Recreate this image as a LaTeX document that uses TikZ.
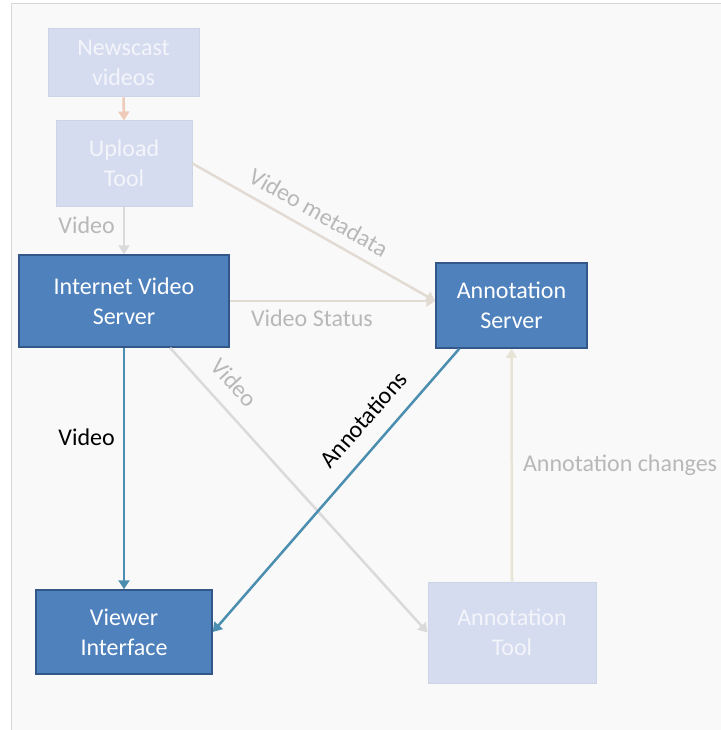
\documentclass[tikz,border=0pt]{standalone}
\usepackage{fontspec}
\setmainfont{Carlito}
\usetikzlibrary{arrows.meta}
\definecolor{darkfill}{HTML}{4F81BD}
\definecolor{darkborder}{HTML}{34578A}
\definecolor{lightfill}{HTML}{D6DCEF}
\definecolor{lightborder}{HTML}{CCD4E6}
\definecolor{lighttext}{HTML}{F3F5FB}
\definecolor{labelgray}{HTML}{B8B8B8}
\definecolor{darkarrow}{HTML}{4C8EB0}
\definecolor{orangearrow}{HTML}{EDCBB8}
\definecolor{grayarrow}{HTML}{DADADA}
\definecolor{beigearrow}{HTML}{E2DBD3}
\definecolor{yellowarrow}{HTML}{E7E4D6}
\definecolor{bgcol}{HTML}{F9F9F9}
\definecolor{framecol}{HTML}{D8D8D8}
\tikzset{
  box/.style={rectangle, inner sep=0pt, align=center, font=\fontsize{24}{30}\selectfont},
  darkbox/.style={box, fill=darkfill, draw=darkborder, line width=1.5pt, text=white},
  lightbox/.style={box, fill=lightfill, draw=lightborder, line width=1pt, text=lighttext},
  conn/.style={line width=2.5pt, -{Triangle[length=9pt,width=11pt]}},
  lbl/.style={font=\fontsize{24}{30}\selectfont, text=labelgray, inner sep=2pt},
  blbl/.style={font=\fontsize{24}{30}\selectfont, text=black, inner sep=2pt}
}
\begin{document}
\begin{tikzpicture}[x=1pt,y=-1pt]
\useasboundingbox (0,0) rectangle (720,730);
\fill[white] (0,0) rectangle (720,730);
\filldraw[fill=bgcol, draw=framecol, line width=1pt] (11,4) rectangle (740,750);

\node[lightbox, minimum width=151pt, minimum height=68pt] (NV) at (123.5,63) {Newscast\\videos};
\node[lightbox, minimum width=136pt, minimum height=85pt] (UT) at (124,163.5) {Upload\\Tool};
\node[darkbox, minimum width=210pt, minimum height=92pt] (IVS) at (124,301) {Internet Video\\Server};
\node[darkbox, minimum width=151pt, minimum height=85pt] (AS) at (511.5,305.5) {Annotation\\Server};
\node[darkbox, minimum width=176pt, minimum height=84pt] (VI) at (124,632) {Viewer\\Interface};
\node[lightbox, minimum width=168pt, minimum height=101pt] (AT) at (512,632.5) {Annotation\\Tool};

\coordinate (ASin) at (IVS.east -| AS.west);

\draw[conn, draw=orangearrow, fill=orangearrow] (NV.south) -- (UT.north);
\draw[conn, draw=grayarrow] (UT.south) -- (IVS.north)
  node[lbl, pos=0.4, left=6pt] {Video};
\draw[conn, draw=beigearrow] (UT.east) -- (ASin)
  node[lbl, pos=0.48, sloped, above=8pt] {Video metadata};
\draw[conn, draw=beigearrow] (IVS.east) -- (ASin)
  node[lbl, pos=0.4, below=6pt] {Video Status};
\draw[conn, draw=grayarrow] ([xshift=46pt]IVS.south) -- (AT.west)
  node[lbl, pos=0.18, sloped, above=13pt] {Video};
\draw[conn, draw=darkarrow] (IVS.south) -- (VI.north)
  node[blbl, pos=0.37, left=6pt] {Video};
\draw[conn, draw=darkarrow, {Triangle[length=9pt,width=11pt]}-] (VI.east) -- ([xshift=24pt]AS.south west)
  node[blbl, pos=0.69, sloped, above=14pt] {Annotations};
\draw[conn, draw=yellowarrow] (AT.north) -- (AS.south)
  node[lbl, pos=0.5, right=8pt] {Annotation changes};
\end{tikzpicture}
\end{document}
